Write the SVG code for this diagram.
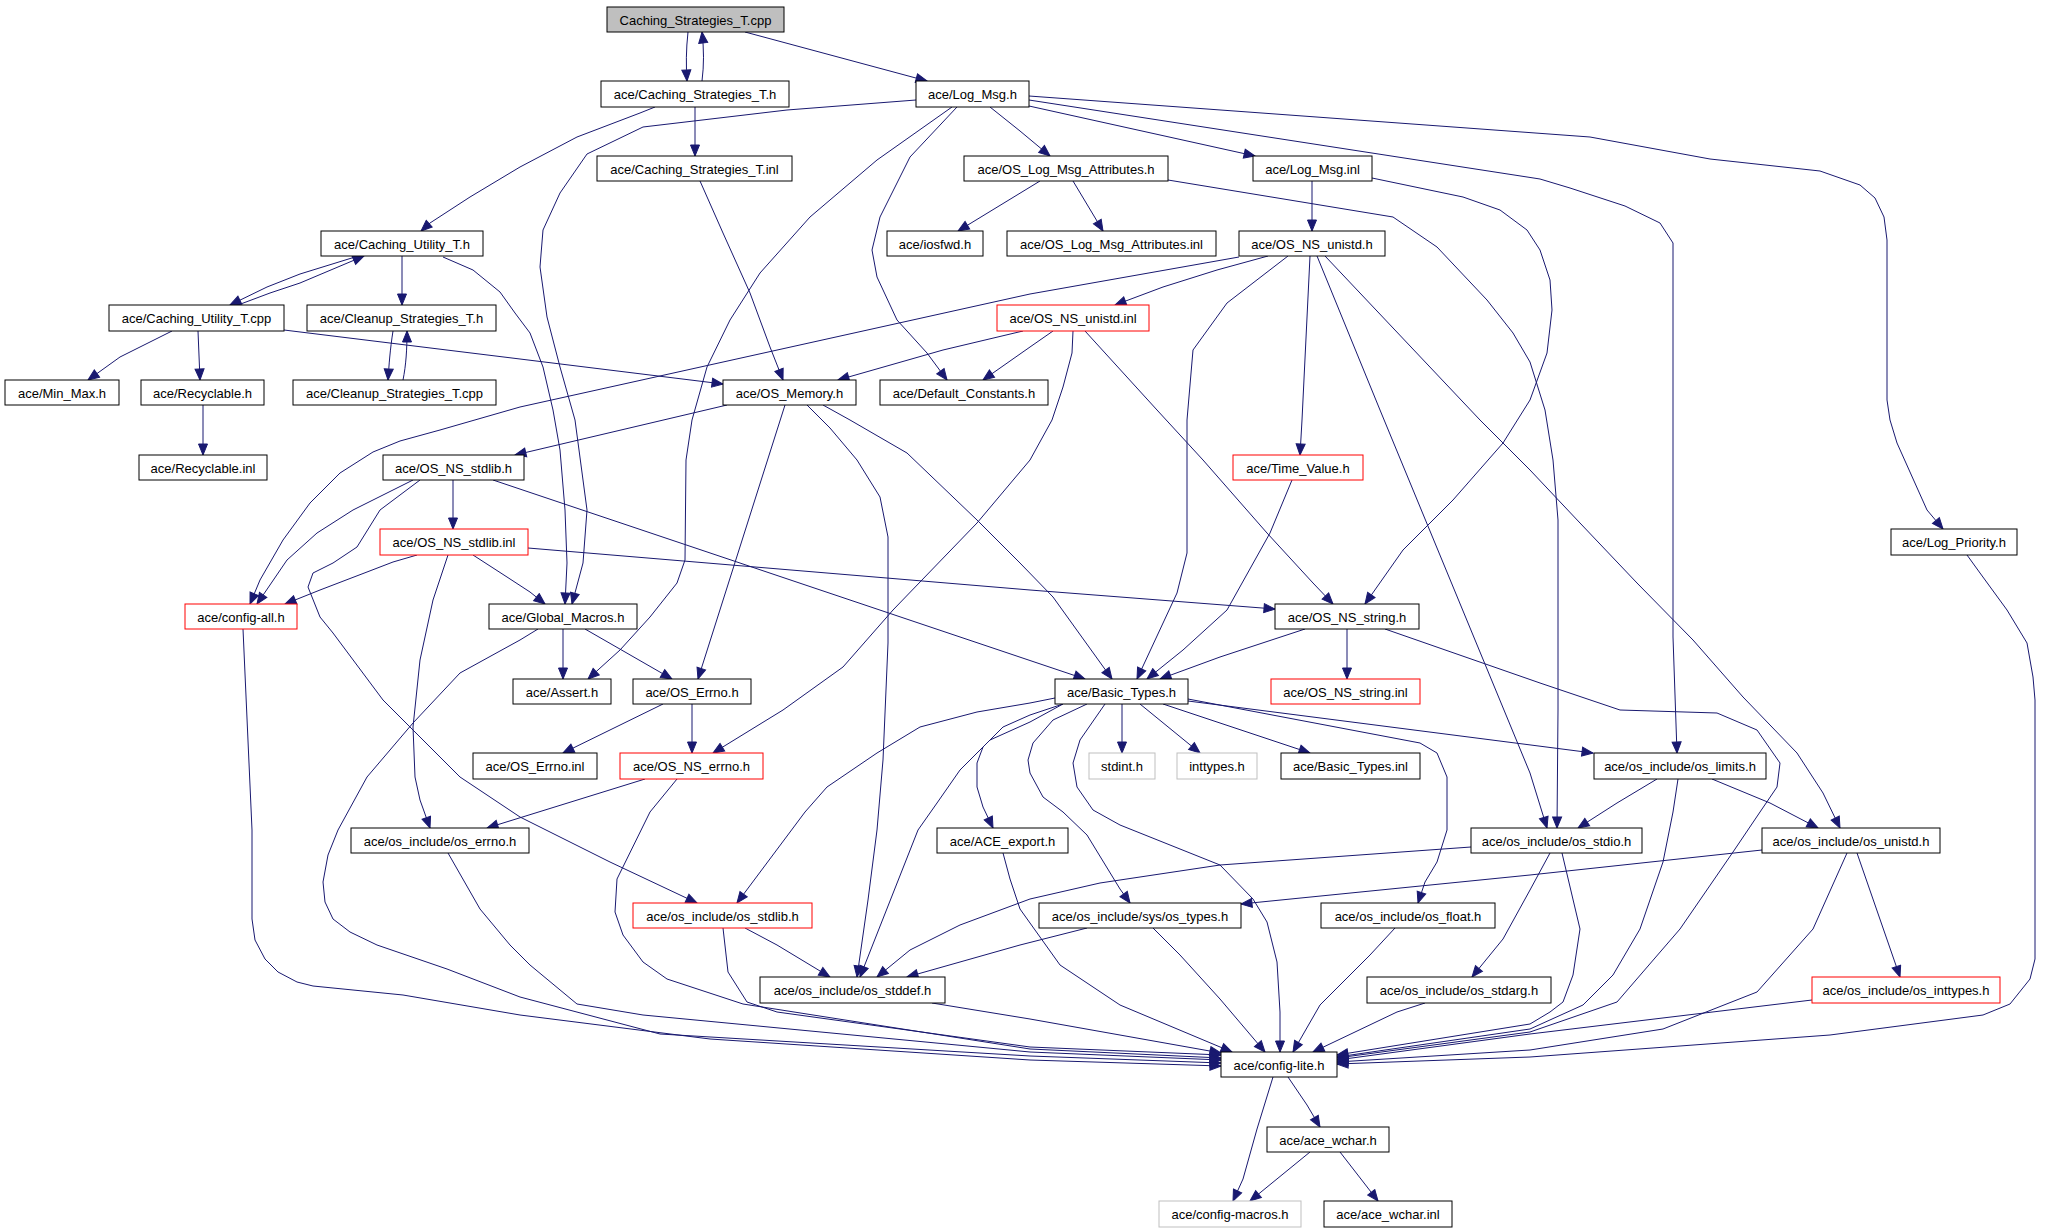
<svg xmlns="http://www.w3.org/2000/svg" width="2068" height="1232" viewBox="0 0 2068 1232">
<style>
.node rect{fill:#ffffff;stroke:#000000;stroke-width:1}
.node rect.red{stroke:#ff0000}
.node rect.grey{stroke:#bfbfbf}
.node rect.root{fill:#bfbfbf}
.node text{font-family:"Liberation Sans",Arial,sans-serif;font-size:13px;fill:#000000;text-anchor:middle}
.e{fill:none;stroke:#191970;stroke-width:1;marker-end:url(#a)}
</style>
<defs>
<marker id="a" markerUnits="userSpaceOnUse" markerWidth="13" markerHeight="11" viewBox="-1 -1 13 11" refX="11" refY="4.5" orient="auto">
<path d="M0,0 L11,4.5 L0,9 z" fill="#191970" stroke="#191970" stroke-width="1"/>
</marker>
</defs>
<rect x="0" y="0" width="2068" height="1232" fill="#ffffff"/>
<g id="edges">
<path class="e" d="M688,32 C686,50 686,65 687,81"/>
<path class="e" d="M702,81 C704,65 704,50 702,32"/>
<path class="e" d="M745,32 L927,81"/>
<path class="e" d="M695,107 L695,156"/>
<path class="e" d="M655,107 L640,113 L577,137 L520,167 L470,197 L430,223 L421,231"/>
<path class="e" d="M916,100 L787,110 L643,127 L587,154 L560,193 L543,230 L540,267 L547,317 L560,367 L575,420 L587,510 L583,563 L572,604"/>
<path class="e" d="M443,257 L473,270 L500,292 L515,313 L530,333 L543,367 L553,410 L560,450 L565,510 L567,563 L565,604"/>
<path class="e" d="M952,107 L877,160 L810,217 L760,273 L730,320 L707,367 L692,420 L686,460 L685,560 L677,583 L650,617 L620,650 L588,679"/>
<path class="e" d="M957,107 L910,157 L880,217 L872,250 L877,277 L897,320 L927,353 L947,380"/>
<path class="e" d="M990,107 L1020,131 L1050,156"/>
<path class="e" d="M1029,106 L1255,156"/>
<path class="e" d="M1029,100 L1540,179 L1570,188 L1625,206 L1660,223 L1673,243 L1673,637 L1677,753"/>
<path class="e" d="M1029,96 L1590,137 L1710,159 L1820,171 L1860,185 L1875,198 L1884,217 L1887,240 L1887,400 L1890,420 L1897,443 L1927,510 L1943,529"/>
<path class="e" d="M1040,181 L958,231"/>
<path class="e" d="M1073,181 L1103,231"/>
<path class="e" d="M1168,180 L1393,217 L1437,247 L1487,300 L1513,333 L1530,362 L1545,410 L1553,460 L1558,520 L1558,710 L1557,828"/>
<path class="e" d="M1312,181 L1312,231"/>
<path class="e" d="M1372,178 L1463,197 L1500,210 L1527,230 L1540,250 L1550,280 L1552,310 L1547,353 L1530,400 L1503,443 L1453,500 L1403,550 L1365,604"/>
<path class="e" d="M355,257 L300,274 L267,287 L230,305"/>
<path class="e" d="M238,305 L270,293 L300,283 L364,256"/>
<path class="e" d="M402,256 L402,305"/>
<path class="e" d="M393,331 C390,350 389,365 388,380"/>
<path class="e" d="M403,380 C406,365 407,350 407,331"/>
<path class="e" d="M172,331 L120,357 L88,380"/>
<path class="e" d="M198,331 L200,380"/>
<path class="e" d="M284,330 L520,359 L723,384"/>
<path class="e" d="M203,405 L203,455"/>
<path class="e" d="M700,181 L723,233 L750,293 L770,347 L783,380"/>
<path class="e" d="M1268,256 L1217,270 L1163,287 L1115,305"/>
<path class="e" d="M1239,257 L1030,294 L520,407 L440,430 L400,441 L373,452 L340,473 L310,503 L283,540 L260,580 L250,604"/>
<path class="e" d="M413,480 L353,510 L317,533 L287,560 L257,604"/>
<path class="e" d="M420,480 L380,510 L357,547 L333,563 L313,573 L308,587 L320,617 L333,633 L383,700 L460,777 L520,817 L610,862 L697,903"/>
<path class="e" d="M453,480 L453,529"/>
<path class="e" d="M493,480 L1085,679"/>
<path class="e" d="M417,555 L393,562 L367,572 L320,590 L285,604"/>
<path class="e" d="M473,555 L507,577 L530,592 L545,604"/>
<path class="e" d="M448,555 L433,600 L420,660 L413,727 L415,777 L420,800 L430,828"/>
<path class="e" d="M528,548 L1030,590 L1275,609"/>
<path class="e" d="M563,629 L563,679"/>
<path class="e" d="M585,629 L672,679"/>
<path class="e" d="M538,629 L520,640 L460,673 L413,723 L367,777 L338,830 L328,855 L323,882 L325,902 L333,919 L350,932 L377,945 L447,969 L520,997 L660,1034 L1030,1056 L1221,1063"/>
<path class="e" d="M663,704 L563,753"/>
<path class="e" d="M692,704 L692,753"/>
<path class="e" d="M785,405 L698,679"/>
<path class="e" d="M727,405 L515,455"/>
<path class="e" d="M807,405 L830,428 L857,460 L880,497 L888,537 L888,643 L883,760 L877,830 L868,900 L857,977"/>
<path class="e" d="M823,405 L850,420 L907,453 L977,520 L1020,563 L1053,597 L1112,679"/>
<path class="e" d="M1023,331 L943,350 L838,380"/>
<path class="e" d="M1053,331 L1030,347 L983,380"/>
<path class="e" d="M1073,331 L1072,353 L1063,387 L1052,420 L1030,460 L977,523 L893,610 L843,667 L783,710 L713,753"/>
<path class="e" d="M1085,331 L1157,410 L1203,460 L1267,533 L1313,583 L1333,604"/>
<path class="e" d="M1288,256 L1227,303 L1193,350 L1187,420 L1187,553 L1177,593 L1137,679"/>
<path class="e" d="M1310,256 L1302,420 L1300,455"/>
<path class="e" d="M1317,256 L1380,410 L1530,773 L1547,828"/>
<path class="e" d="M1325,256 L1480,420 L1530,470 L1580,523 L1637,583 L1693,640 L1743,697 L1797,753 L1823,793 L1840,828"/>
<path class="e" d="M1292,480 L1270,533 L1227,610 L1183,650 L1147,679"/>
<path class="e" d="M1305,629 L1220,657 L1160,679"/>
<path class="e" d="M1347,629 L1347,679"/>
<path class="e" d="M1385,629 L1540,683 L1620,710 L1717,713 L1757,730 L1780,763 L1777,787 L1760,812 L1733,852 L1680,929 L1617,1002 L1530,1032 L1337,1058"/>
<path class="e" d="M1188,701 L1593,753"/>
<path class="e" d="M1188,699 L1420,743 L1437,753 L1447,777 L1447,830 L1437,862 L1425,882 L1418,903"/>
<path class="e" d="M1122,704 L1122,753"/>
<path class="e" d="M1140,704 L1200,753"/>
<path class="e" d="M1163,704 L1310,753"/>
<path class="e" d="M1055,698 L1030,703 L977,712 L920,727 L877,753 L827,787 L805,812 L737,903"/>
<path class="e" d="M1063,704 L1030,722 L990,740 L960,770 L937,803 L918,830 L860,977"/>
<path class="e" d="M1063,704 L1030,715 L1003,727 L983,747 L977,763 L977,787 L983,807 L993,828"/>
<path class="e" d="M1087,704 L1053,720 L1033,743 L1028,760 L1030,773 L1043,797 L1063,812 L1087,835 L1120,889 L1130,903"/>
<path class="e" d="M1105,704 L1080,740 L1073,763 L1077,787 L1093,810 L1120,825 L1170,845 L1220,865 L1253,899 L1267,922 L1277,962 L1280,1012 L1280,1052"/>
<path class="e" d="M1657,779 L1617,803 L1578,828"/>
<path class="e" d="M1712,779 L1770,803 L1818,828"/>
<path class="e" d="M1678,779 L1673,812 L1663,862 L1640,929 L1613,975 L1583,1005 L1530,1029 L1337,1057"/>
<path class="e" d="M1550,853 L1530,890 L1503,939 L1472,977"/>
<path class="e" d="M1471,847 L1220,865 L1100,883 L1030,899 L960,925 L910,950 L877,977"/>
<path class="e" d="M1562,853 L1580,929 L1573,975 L1563,1002 L1550,1012 L1530,1024 L1337,1055"/>
<path class="e" d="M1762,850 L1530,875 L1241,904"/>
<path class="e" d="M1847,853 L1813,929 L1757,992 L1663,1029 L1530,1050 L1337,1062"/>
<path class="e" d="M1857,853 L1900,977"/>
<path class="e" d="M1812,1000 L1530,1034 L1337,1060"/>
<path class="e" d="M1967,555 L1980,573 L2007,610 L2027,643 L2033,677 L2035,700 L2035,959 L2030,979 L2010,1004 L1983,1015 L1830,1035 L1530,1057 L1337,1064"/>
<path class="e" d="M1087,928 L1020,945 L907,977"/>
<path class="e" d="M1153,928 L1180,955 L1220,999 L1265,1052"/>
<path class="e" d="M1395,928 L1370,955 L1320,1005 L1293,1052"/>
<path class="e" d="M1425,1003 L1397,1012 L1313,1052"/>
<path class="e" d="M932,1003 L1030,1019 L1221,1053"/>
<path class="e" d="M745,928 L777,945 L830,977"/>
<path class="e" d="M723,928 L728,972 L747,1002 L777,1012 L1030,1047 L1221,1055"/>
<path class="e" d="M645,779 L487,828"/>
<path class="e" d="M677,779 L650,812 L617,879 L615,912 L623,935 L643,962 L667,979 L743,1004 L1030,1049 L1221,1058"/>
<path class="e" d="M448,853 L480,909 L510,945 L530,965 L577,1004 L643,1015 L1030,1052 L1221,1060"/>
<path class="e" d="M243,629 L252,830 L252,919 L255,940 L265,959 L278,972 L297,982 L313,986 L403,995 L520,1015 L710,1039 L1030,1060 L1221,1066"/>
<path class="e" d="M1003,853 L1010,879 L1020,909 L1060,965 L1120,1005 L1232,1052"/>
<path class="e" d="M1288,1077 L1307,1105 L1320,1127"/>
<path class="e" d="M1273,1077 L1257,1129 L1243,1179 L1233,1201"/>
<path class="e" d="M1310,1152 L1250,1201"/>
<path class="e" d="M1340,1152 L1378,1201"/>
</g>
<g id="n0" class="node"><rect class="root" x="607" y="7" width="177" height="25"/><text x="695.5" y="24.5">Caching_Strategies_T.cpp</text></g>
<g id="n1" class="node"><rect x="601" y="81" width="188" height="26"/><text x="695" y="99">ace/Caching_Strategies_T.h</text></g>
<g id="n2" class="node"><rect x="916" y="81" width="113" height="26"/><text x="972.5" y="99">ace/Log_Msg.h</text></g>
<g id="n3" class="node"><rect x="597" y="156" width="195" height="25"/><text x="694.5" y="173.5">ace/Caching_Strategies_T.inl</text></g>
<g id="n4" class="node"><rect x="964" y="156" width="204" height="25"/><text x="1066" y="173.5">ace/OS_Log_Msg_Attributes.h</text></g>
<g id="n5" class="node"><rect x="1253" y="156" width="119" height="25"/><text x="1312.5" y="173.5">ace/Log_Msg.inl</text></g>
<g id="n6" class="node"><rect x="321" y="231" width="162" height="25"/><text x="402" y="248.5">ace/Caching_Utility_T.h</text></g>
<g id="n7" class="node"><rect x="887" y="231" width="96" height="25"/><text x="935" y="248.5">ace/iosfwd.h</text></g>
<g id="n8" class="node"><rect x="1007" y="231" width="209" height="25"/><text x="1111.5" y="248.5">ace/OS_Log_Msg_Attributes.inl</text></g>
<g id="n9" class="node"><rect x="1239" y="231" width="146" height="25"/><text x="1312" y="248.5">ace/OS_NS_unistd.h</text></g>
<g id="n10" class="node"><rect x="109" y="305" width="175" height="26"/><text x="196.5" y="323">ace/Caching_Utility_T.cpp</text></g>
<g id="n11" class="node"><rect x="307" y="305" width="189" height="26"/><text x="401.5" y="323">ace/Cleanup_Strategies_T.h</text></g>
<g id="n12" class="node"><rect class="red" x="997" y="305" width="152" height="26"/><text x="1073" y="323">ace/OS_NS_unistd.inl</text></g>
<g id="n13" class="node"><rect x="5" y="380" width="114" height="25"/><text x="62" y="397.5">ace/Min_Max.h</text></g>
<g id="n14" class="node"><rect x="141" y="380" width="123" height="25"/><text x="202.5" y="397.5">ace/Recyclable.h</text></g>
<g id="n15" class="node"><rect x="293" y="380" width="203" height="25"/><text x="394.5" y="397.5">ace/Cleanup_Strategies_T.cpp</text></g>
<g id="n16" class="node"><rect x="723" y="380" width="133" height="25"/><text x="789.5" y="397.5">ace/OS_Memory.h</text></g>
<g id="n17" class="node"><rect x="880" y="380" width="168" height="25"/><text x="964" y="397.5">ace/Default_Constants.h</text></g>
<g id="n18" class="node"><rect x="139" y="455" width="128" height="25"/><text x="203" y="472.5">ace/Recyclable.inl</text></g>
<g id="n19" class="node"><rect x="383" y="455" width="141" height="25"/><text x="453.5" y="472.5">ace/OS_NS_stdlib.h</text></g>
<g id="n20" class="node"><rect class="red" x="1233" y="455" width="130" height="25"/><text x="1298" y="472.5">ace/Time_Value.h</text></g>
<g id="n21" class="node"><rect class="red" x="380" y="529" width="148" height="26"/><text x="454" y="547">ace/OS_NS_stdlib.inl</text></g>
<g id="n22" class="node"><rect x="1891" y="529" width="126" height="26"/><text x="1954" y="547">ace/Log_Priority.h</text></g>
<g id="n23" class="node"><rect class="red" x="185" y="604" width="112" height="25"/><text x="241" y="621.5">ace/config-all.h</text></g>
<g id="n24" class="node"><rect x="489" y="604" width="148" height="25"/><text x="563" y="621.5">ace/Global_Macros.h</text></g>
<g id="n25" class="node"><rect x="1275" y="604" width="144" height="25"/><text x="1347" y="621.5">ace/OS_NS_string.h</text></g>
<g id="n26" class="node"><rect x="513" y="679" width="98" height="25"/><text x="562" y="696.5">ace/Assert.h</text></g>
<g id="n27" class="node"><rect x="633" y="679" width="118" height="25"/><text x="692" y="696.5">ace/OS_Errno.h</text></g>
<g id="n28" class="node"><rect x="1055" y="679" width="133" height="25"/><text x="1121.5" y="696.5">ace/Basic_Types.h</text></g>
<g id="n29" class="node"><rect class="red" x="1271" y="679" width="149" height="25"/><text x="1345.5" y="696.5">ace/OS_NS_string.inl</text></g>
<g id="n30" class="node"><rect x="473" y="753" width="124" height="26"/><text x="535" y="771">ace/OS_Errno.inl</text></g>
<g id="n31" class="node"><rect class="red" x="620" y="753" width="143" height="26"/><text x="691.5" y="771">ace/OS_NS_errno.h</text></g>
<g id="n32" class="node"><rect class="grey" x="1089" y="753" width="66" height="26"/><text x="1122" y="771">stdint.h</text></g>
<g id="n33" class="node"><rect class="grey" x="1177" y="753" width="80" height="26"/><text x="1217" y="771">inttypes.h</text></g>
<g id="n34" class="node"><rect x="1281" y="753" width="139" height="26"/><text x="1350.5" y="771">ace/Basic_Types.inl</text></g>
<g id="n35" class="node"><rect x="1594" y="753" width="172" height="26"/><text x="1680" y="771">ace/os_include/os_limits.h</text></g>
<g id="n36" class="node"><rect x="351" y="828" width="178" height="25"/><text x="440" y="845.5">ace/os_include/os_errno.h</text></g>
<g id="n37" class="node"><rect x="937" y="828" width="131" height="25"/><text x="1002.5" y="845.5">ace/ACE_export.h</text></g>
<g id="n38" class="node"><rect x="1471" y="828" width="171" height="25"/><text x="1556.5" y="845.5">ace/os_include/os_stdio.h</text></g>
<g id="n39" class="node"><rect x="1762" y="828" width="178" height="25"/><text x="1851" y="845.5">ace/os_include/os_unistd.h</text></g>
<g id="n40" class="node"><rect class="red" x="633" y="903" width="179" height="25"/><text x="722.5" y="920.5">ace/os_include/os_stdlib.h</text></g>
<g id="n41" class="node"><rect x="1039" y="903" width="202" height="25"/><text x="1140" y="920.5">ace/os_include/sys/os_types.h</text></g>
<g id="n42" class="node"><rect x="1321" y="903" width="174" height="25"/><text x="1408" y="920.5">ace/os_include/os_float.h</text></g>
<g id="n43" class="node"><rect x="760" y="977" width="185" height="26"/><text x="852.5" y="995">ace/os_include/os_stddef.h</text></g>
<g id="n44" class="node"><rect x="1367" y="977" width="184" height="26"/><text x="1459" y="995">ace/os_include/os_stdarg.h</text></g>
<g id="n45" class="node"><rect class="red" x="1812" y="977" width="188" height="26"/><text x="1906" y="995">ace/os_include/os_inttypes.h</text></g>
<g id="n46" class="node"><rect x="1221" y="1052" width="116" height="25"/><text x="1279" y="1069.5">ace/config-lite.h</text></g>
<g id="n47" class="node"><rect x="1267" y="1127" width="122" height="25"/><text x="1328" y="1144.5">ace/ace_wchar.h</text></g>
<g id="n48" class="node"><rect class="grey" x="1159" y="1201" width="142" height="26"/><text x="1230" y="1219">ace/config-macros.h</text></g>
<g id="n49" class="node"><rect x="1324" y="1201" width="128" height="26"/><text x="1388" y="1219">ace/ace_wchar.inl</text></g>
</svg>
